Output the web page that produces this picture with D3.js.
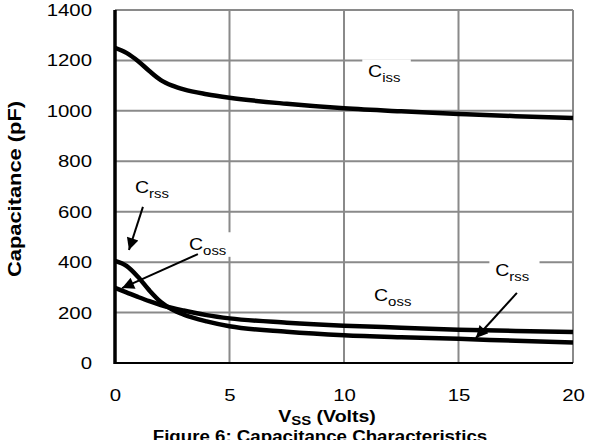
<!DOCTYPE html>
<html>
<head>
<meta charset="utf-8">
<script src="https://cdn.jsdelivr.net/npm/d3@7"></script>
<style>
  body { margin: 0; background: #fff; }
  text { font-family: Arial, "Liberation Sans", sans-serif; fill: #000; }
</style>
</head>
<body>
<div id="container"></div>
<script>
// ---------------- data ----------------
var volts = [0, 0.5, 1, 1.5, 2, 2.5, 3, 4, 5, 7.5, 10, 12.5, 15, 17.5, 20];
var ciss = [1250, 1230, 1198, 1158, 1122, 1100, 1085, 1066, 1052, 1028, 1010, 998, 988, 979, 972];
var coss = [298, 280, 262, 245, 230, 218, 208, 190, 177, 160, 148, 140, 132, 127, 123];
var crss = [405, 385, 342, 288, 242, 212, 192, 165, 146, 124, 110, 102, 96, 88, 81];

var xTicks = [0, 5, 10, 15, 20];
var yTicks = [0, 200, 400, 600, 800, 1000, 1200, 1400];

// annotations, in data units (volts, pF)
var noteSubs = ["iss", "rss", "oss", "oss", "rss"];
var noteX = [11.05, 0.87, 3.23, 11.31, 16.6];
var noteY = [1134, 674, 448, 246, 345];
var arrowFromX = [1.22, 3.62, 17.55];
var arrowFromY = [619, 432, 278];
var arrowToX = [0.61, 0.31, 15.76];
var arrowToY = [448, 297, 99];

// ---------------- layout ----------------
const width = 594;
const height = 440;
const plot = {left: 115, right: 573, top: 10, bottom: 363};
const stretch = 1.2;

const svg = d3.select("div#container").append("svg")
    .attr("width", width)
    .attr("height", height);

const xScale = d3.scaleLinear().domain([0, 20]).range([plot.left, plot.right]);
const yScale = d3.scaleLinear().domain([0, 1400]).range([plot.bottom, plot.top]);

svg.append("defs").append("marker")
    .attr("id", "head")
    .attr("markerUnits", "userSpaceOnUse")
    .attr("viewBox", "0 0 10 10")
    .attr("refX", 10)
    .attr("refY", 5)
    .attr("markerWidth", 15)
    .attr("markerHeight", 12)
    .attr("orient", "auto")
  .append("path")
    .attr("d", "M0,0L10,5L0,10Z")
    .attr("fill", "#000");

//----------------------------GRID------------------------------//
svg.append("g").selectAll("line.hgrid")
    .data(yTicks.filter(function(d) { return d > 0; }))
    .enter().append("line")
    .attr("x1", plot.left).attr("x2", plot.right)
    .attr("y1", function(d) { return yScale(d); })
    .attr("y2", function(d) { return yScale(d); })
    .attr("stroke", "#8a8a8a").attr("stroke-width", 2);

svg.append("g").selectAll("line.vgrid")
    .data(xTicks.filter(function(d) { return d > 0; }))
    .enter().append("line")
    .attr("x1", function(d) { return xScale(d); })
    .attr("x2", function(d) { return xScale(d); })
    .attr("y1", plot.top).attr("y2", plot.bottom)
    .attr("stroke", "#8a8a8a").attr("stroke-width", 2);

//----------------------------AXES------------------------------//
const yaxis = svg.append("g")
    .attr("transform", "translate(" + plot.left + ",0)")
    .call(d3.axisLeft(yScale).tickValues(yTicks).tickFormat(d3.format("d"))
          .tickSize(0).tickPadding(23));
yaxis.select(".domain").remove();
yaxis.selectAll("text")
    .style("font-size", "17px")
    .attr("x", -23 / stretch)
    .attr("transform", "scale(" + stretch + ",1)");

const xaxis = svg.append("g")
    .attr("transform", "translate(0," + plot.bottom + ")")
    .call(d3.axisBottom(xScale).tickValues(xTicks).tickFormat(d3.format("d"))
          .tickSize(0).tickPadding(26));
xaxis.select(".domain").remove();
xaxis.selectAll("text")
    .style("font-size", "17px")
    .attr("transform", "scale(" + stretch + ",1)");

svg.append("line")
    .attr("x1", plot.left).attr("x2", plot.right)
    .attr("y1", plot.bottom).attr("y2", plot.bottom)
    .attr("stroke", "#000").attr("stroke-width", 2);

//--------------------------LABEL BOXES-------------------------//
const notes = svg.append("g");
noteSubs.forEach(function(s, i) {
  const g = notes.append("g")
      .attr("transform", "translate(" + xScale(noteX[i]) + "," + yScale(noteY[i]) + ") scale(1.15,1)");
  const t = g.append("text").style("font-size", "17px");
  t.append("tspan").text("C");
  t.append("tspan").attr("dy", 5).style("font-size", "13px").text(s);
  const b = t.node().getBBox();
  g.insert("rect", "text")
      .attr("x", b.x - 5).attr("y", b.y - 2)
      .attr("width", b.width + 14).attr("height", b.height + 1)
      .attr("fill", "#fff");
});

//----------------------------LINES-----------------------------//
const line = d3.line()
    .x(function(d) { return xScale(d[0]); })
    .y(function(d) { return yScale(d[1]); })
    .curve(d3.curveMonotoneX);

[ciss, coss, crss].forEach(function(series) {
  svg.append("path")
      .datum(volts.map(function(v, i) { return [v, series[i]]; }))
      .attr("fill", "none")
      .attr("stroke", "#000")
      .attr("stroke-width", 4.5)
      .attr("stroke-linejoin", "round")
      .attr("d", line);
});

// left axis drawn over the curves
svg.append("line")
    .attr("x1", plot.left).attr("x2", plot.left)
    .attr("y1", plot.top).attr("y2", plot.bottom + 1)
    .attr("stroke", "#000").attr("stroke-width", 3.5);

//----------------------------ARROWS----------------------------//
arrowFromX.forEach(function(x0, i) {
  svg.append("line")
      .attr("x1", xScale(x0)).attr("y1", yScale(arrowFromY[i]))
      .attr("x2", xScale(arrowToX[i])).attr("y2", yScale(arrowToY[i]))
      .attr("stroke", "#000").attr("stroke-width", 2)
      .attr("marker-end", "url(#head)");
});

//----------------------------TITLES----------------------------//
const xt = svg.append("text")
    .attr("text-anchor", "middle")
    .attr("transform", "translate(327,422) scale(1.15,1)")
    .style("font-size", "17px").style("font-weight", "bold");
xt.append("tspan").text("V");
xt.append("tspan").attr("dy", 3).style("font-size", "13px").text("SS");
xt.append("tspan").attr("dy", -3).text(" (Volts)");

svg.append("text")
    .attr("text-anchor", "middle")
    .attr("transform", "translate(21,189) rotate(-90) scale(1.15,1)")
    .style("font-size", "19px").style("font-weight", "bold")
    .text("Capacitance (pF)");

svg.append("text")
    .attr("text-anchor", "middle")
    .attr("transform", "translate(320,442) scale(1.1,1)")
    .style("font-size", "17px").style("font-weight", "bold")
    .text("Figure 6: Capacitance Characteristics");
</script>
</body>
</html>
